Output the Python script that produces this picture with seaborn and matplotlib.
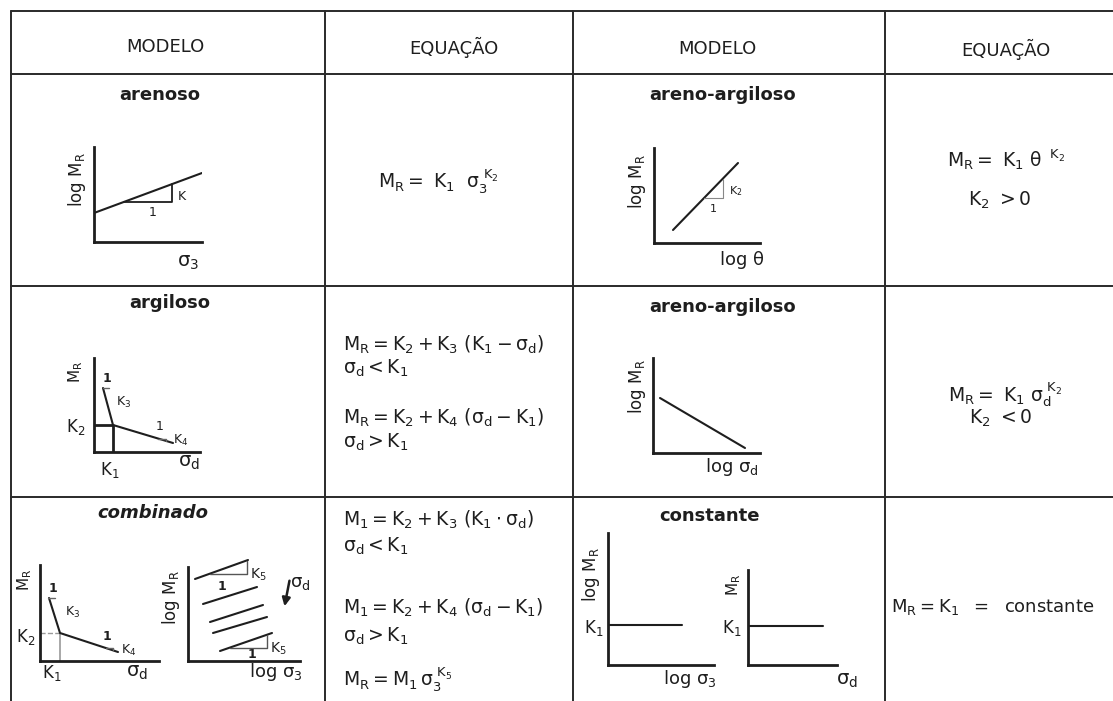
import matplotlib
matplotlib.use('Agg')
import matplotlib.pyplot as plt
import seaborn as sns
import pandas as pd

sns.set_theme(style='white')
plt.rcParams['font.family'] = ['DejaVu Sans']
plt.rcParams['mathtext.fontset'] = 'dejavusans'
plt.rcParams['mathtext.default'] = 'regular'

# Dados dos diagramas (em pixels a partir da origem de cada eixo)
arenoso_x = [0, 108]
arenoso_y = [29, 69]
arenoso_tri_x = [30, 78, 78]
arenoso_tri_y = [40, 40, 58]

theta_x = [19, 84]
theta_y = [13, 80]
theta_tri_x = [50, 69, 69]
theta_tri_y = [45, 45, 64]

argiloso_x = [9, 19, 79]
argiloso_y = [64, 27, 9]
argiloso_k_x = [0, 19, 19]
argiloso_k_y = [27, 27, 0]
argiloso_tri1_x = [9, 15]
argiloso_tri1_y = [64, 64]
argiloso_tri2_x = [64, 72, 72]
argiloso_tri2_y = [13.5, 13.5, 11.1]

sigd_x = [7, 92]
sigd_y = [55, 5]

comb_x = [9, 20, 78]
comb_y = [63, 28, 9]
comb_k2_x = [0, 20]
comb_k2_y = [28, 28]
comb_k1_x = [20, 20]
comb_k1_y = [0, 28]
comb_tri1_x = [8, 15]
comb_tri1_y = [63, 63]
comb_tri2_x = [66, 73, 73]
comb_tri2_y = [12.9, 12.9, 10.6]

retas_id = [1, 1, 2, 2, 3, 3, 4, 4, 5, 5]
retas_x = [7, 60, 15, 69, 22, 75, 25, 79, 32, 84]
retas_y = [82, 101, 57, 74, 39, 56, 28, 44, 10, 28]
retas_tri1_x = [22, 59, 59]
retas_tri1_y = [87, 87, 100]
retas_tri2_x = [42, 79, 79]
retas_tri2_y = [13.5, 13.5, 26]

const1_x = [0, 74]
const1_y = [40, 40]
const2_x = [0, 75]
const2_y = [39, 39]

W, H = 1113, 701
INK = '#1e1e1e'
fig = plt.figure(figsize=(W / 100, H / 100), dpi=100)
bg = fig.add_axes([0, 0, 1, 1])
bg.set_xlim(0, W)
bg.set_ylim(H, 0)
bg.axis('off')

# Linhas da tabela
for x in [11, 325, 573, 885]:
    bg.plot([x, x], [11, H], color='#2a2a2a', lw=1.4)
for y in [11, 74, 286, 497]:
    bg.plot([11, W], [y, y], color='#2a2a2a', lw=1.4)


def mini(x0, y0, x1, y1, top=None):
    ax = fig.add_axes([x0 / W, 1 - y1 / H, (x1 - x0) / W, (y1 - y0) / H])
    ax.set_xlim(0, x1 - x0)
    ax.set_ylim(0, y1 - y0)
    ax.spines['top'].set_visible(False)
    ax.spines['right'].set_visible(False)
    for s in ['left', 'bottom']:
        ax.spines[s].set_linewidth(2)
        ax.spines[s].set_color(INK)
    if top is not None:
        ax.spines['left'].set_bounds(0, top)
    ax.set_xticks([])
    ax.set_yticks([])
    ax.patch.set_alpha(0)
    return ax


def linha(ax, x, y, cor=INK, lw=1.5, ls='-'):
    sns.lineplot(x=x, y=y, ax=ax, color=cor, lw=lw, ls=ls, sort=False, estimator=None)
    ax.set_xlabel('')
    ax.set_ylabel('')


def txt(x, y, s, size=12, **kw):
    bg.text(x, y, s, ha=kw.pop('ha', 'center'), va='center', fontsize=size, color=INK, **kw)


# Cabeçalho
txt(165, 47, 'MODELO', 13)
txt(454, 47, 'EQUAÇÃO', 13)
txt(717, 49, 'MODELO', 13)
txt(1006, 49, 'EQUAÇÃO', 13)

# Nomes dos modelos
txt(160, 95, 'arenoso', 13, weight='bold')
txt(723, 95, 'areno-argiloso', 13, weight='bold')
txt(170, 303, 'argiloso', 13, weight='bold')
txt(723, 307, 'areno-argiloso', 13, weight='bold')
txt(153, 513, 'combinado', 13, weight='bold', style='italic')
txt(709, 516, 'constante', 13, weight='bold')

# arenoso
ax = mini(94, 147, 202, 242)
linha(ax, arenoso_x, arenoso_y)
linha(ax, arenoso_tri_x, arenoso_tri_y, lw=1.3)
txt(77, 180, 'log $M_R$', 12, rotation=90)
txt(188, 262, r'$\sigma_3$', 14)
txt(182, 197, 'K', 9)
txt(153, 212, '1', 9)

# areno-argiloso (theta)
ax = mini(654, 148, 760, 243)
linha(ax, theta_x, theta_y)
linha(ax, theta_tri_x, theta_tri_y, cor='#888888', lw=0.8)
txt(637, 182, 'log $M_R$', 12, rotation=90)
txt(742, 260, r'log $\theta$', 13)
txt(736, 191, '$K_2$', 8)
txt(713, 209, '1', 8)

# argiloso
ax = mini(94, 358, 200, 452)
linha(ax, argiloso_k_x, argiloso_k_y, lw=2)
linha(ax, argiloso_x, argiloso_y)
linha(ax, argiloso_tri1_x, argiloso_tri1_y, cor='#666666', lw=1)
linha(ax, argiloso_tri2_x, argiloso_tri2_y, cor='#666666', lw=1)
txt(76, 372, '$M_R$', 11, rotation=90)
txt(107, 378, '1', 9, weight='bold')
txt(124, 402, '$K_3$', 9)
txt(76, 427, '$K_2$', 12)
txt(160, 427, '1', 9)
txt(181, 440, '$K_4$', 9)
txt(110, 470, '$K_1$', 12)
txt(189, 463, r'$\sigma_d$', 14)

# areno-argiloso (sigma d)
ax = mini(653, 358, 760, 453)
linha(ax, sigd_x, sigd_y)
txt(637, 387, 'log $M_R$', 12, rotation=90)
txt(732, 467, r'log $\sigma_d$', 13)

# combinado (esquerda)
ax = mini(40, 565, 159, 661)
linha(ax, comb_k2_x, comb_k2_y, cor='#999999', lw=1, ls='--')
linha(ax, comb_k1_x, comb_k1_y, cor='#999999', lw=1.2)
linha(ax, comb_x, comb_y)
linha(ax, comb_tri1_x, comb_tri1_y, cor='#666666', lw=1)
linha(ax, comb_tri2_x, comb_tri2_y, cor='#666666', lw=1)
txt(25, 580, '$M_R$', 11, rotation=90)
txt(53, 588, '1', 9, weight='bold')
txt(73, 612, '$K_3$', 9)
txt(26, 637, '$K_2$', 12)
txt(107, 637, '1', 9, weight='bold')
txt(129, 650, '$K_4$', 9)
txt(52, 673, '$K_1$', 12)
txt(137, 672, r'$\sigma_d$', 14)

# combinado (direita)
ax = mini(188, 558, 300, 661, top=94)
retas = pd.DataFrame({'reta': retas_id, 'x': retas_x, 'y': retas_y})
sns.lineplot(data=retas, x='x', y='y', units='reta', estimator=None, sort=False,
             ax=ax, color=INK, lw=1.5)
ax.set_xlabel('')
ax.set_ylabel('')
linha(ax, retas_tri1_x, retas_tri1_y, cor='#555555', lw=1)
linha(ax, retas_tri2_x, retas_tri2_y, cor='#555555', lw=1)
txt(171, 598, 'log $M_R$', 12, rotation=90)
txt(222, 586, '1', 9, weight='bold')
txt(258, 575, '$K_5$', 10)
txt(252, 654, '1', 9, weight='bold')
txt(278, 649, '$K_5$', 10)
txt(300, 583, r'$\sigma_d$', 13)
bg.annotate('', xy=(284, 609), xytext=(290, 578),
            arrowprops=dict(arrowstyle='-|>', color=INK, lw=1.8, mutation_scale=12))
txt(276, 672, r'log $\sigma_3$', 13)

# constante
ax = mini(608, 533, 714, 665)
linha(ax, const1_x, const1_y)
txt(591, 575, 'log $M_R$', 12, rotation=90)
txt(594, 628, '$K_1$', 12)
txt(690, 679, r'log $\sigma_3$', 13)

ax = mini(748, 570, 837, 665)
linha(ax, const2_x, const2_y)
txt(734, 585, '$M_R$', 11, rotation=90)
txt(732, 628, '$K_1$', 12)
txt(847, 680, r'$\sigma_d$', 14)

# Equações
EQ = 13.5
txt(438, 182, r'$M_R = \ K_1\ \ \sigma_3^{\ K_2}$', EQ)
txt(1006, 160, r'$M_R = \ K_1\ \theta^{\ \ K_2}$', EQ)
txt(1000, 200, r'$K_2\ > 0$', EQ)
txt(1005, 395, r'$M_R = \ K_1\ \sigma_d^{\ K_2}$', EQ)
txt(1001, 418, r'$K_2\ < 0$', EQ)

eq_x = 343
txt(eq_x, 345, r'$M_R = K_2 + K_3\ (K_1 - \sigma_d)$', EQ, ha='left')
txt(eq_x, 368, r'$\sigma_d < K_1$', EQ, ha='left')
txt(eq_x, 418, r'$M_R = K_2 + K_4\ (\sigma_d - K_1)$', EQ, ha='left')
txt(eq_x, 442, r'$\sigma_d > K_1$', EQ, ha='left')

txt(eq_x, 520, r'$M_1 = K_2 + K_3\ (K_1 \cdot \sigma_d)$', EQ, ha='left')
txt(eq_x, 546, r'$\sigma_d < K_1$', EQ, ha='left')
txt(eq_x, 608, r'$M_1 = K_2 + K_4\ (\sigma_d - K_1)$', EQ, ha='left')
txt(eq_x, 636, r'$\sigma_d > K_1$', EQ, ha='left')
txt(eq_x, 680, r'$M_R = M_1\,\sigma_3^{\ K_5}$', EQ, ha='left')

txt(891, 607, r'$M_R = K_1\ \ =\ \ \mathrm{constante}$', 13, ha='left')

fig.savefig('out.png', dpi=100)
